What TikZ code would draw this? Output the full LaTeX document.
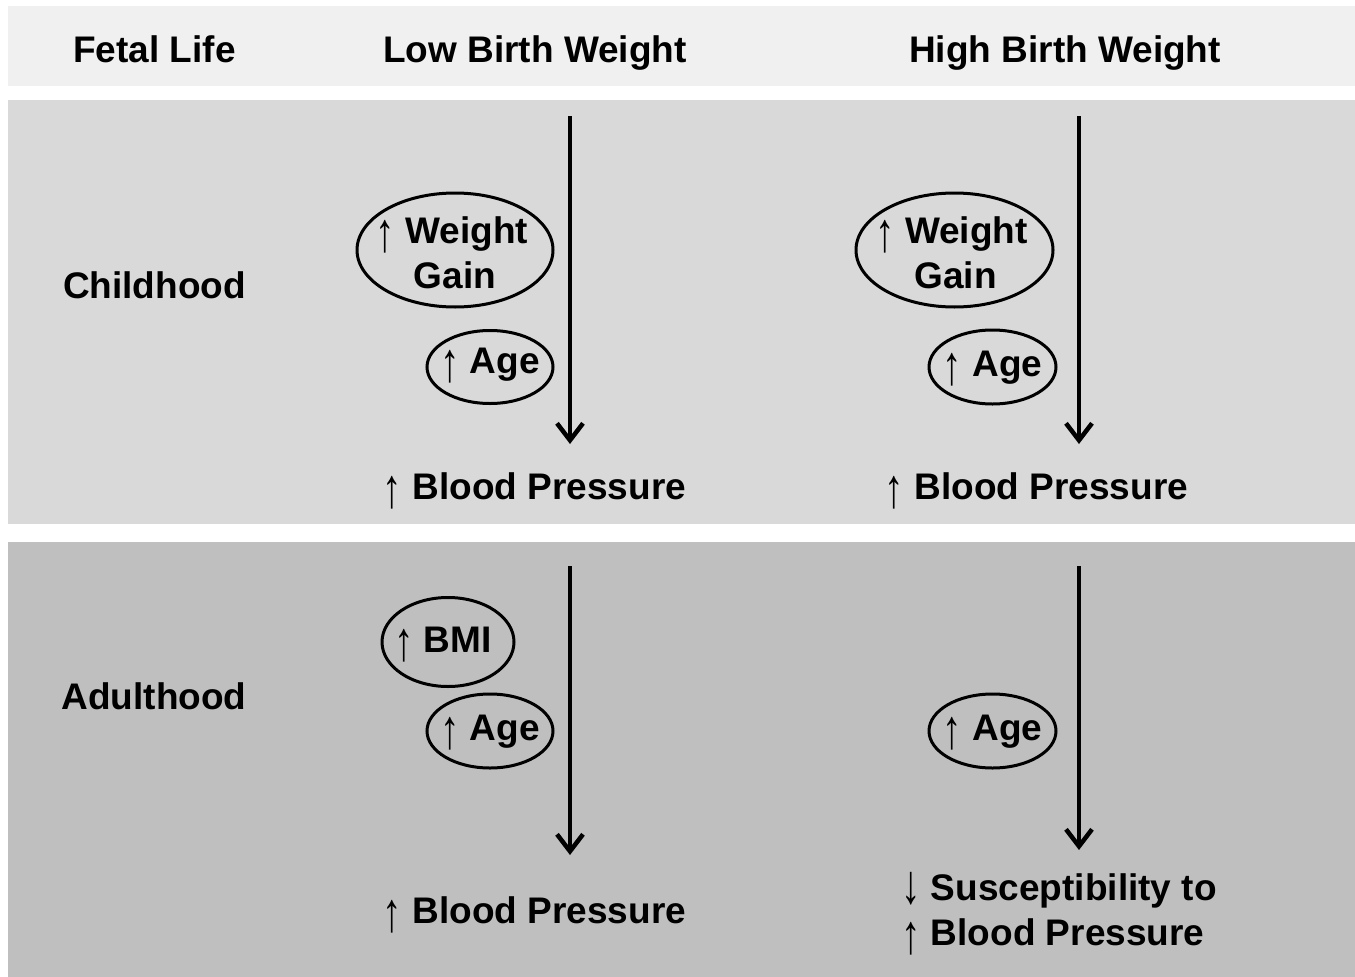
\documentclass[tikz,border=0pt]{standalone}
\usepackage{fontspec}
\usepackage{graphicx}
\setmainfont{Liberation Sans}
\usetikzlibrary{arrows.meta,shapes.geometric}
\definecolor{hdrband}{HTML}{F0F0F0}
\definecolor{childband}{HTML}{D9D9D9}
\definecolor{adultband}{HTML}{BFBFBF}
\newcommand{\uparr}{\raisebox{-8pt}{\scalebox{1.05}[1.5]{\mdseries\char"2191}}}
\newcommand{\dnarr}{\raisebox{-3pt}{\scalebox{1.05}[1.5]{\mdseries\char"2193}}}
\begin{document}
\begin{tikzpicture}[x=1pt,y=-1pt,
  every node/.style={font=\fontsize{37}{45}\selectfont\bfseries,inner sep=0pt},
  oval/.style={ellipse,draw,line width=3pt,inner sep=0pt},
  flow/.style={line width=4.5pt,-{Straight Barb[length=17pt,width=26pt]}}]
\useasboundingbox (0,0) rectangle (1355,977);
\fill[white] (0,0) rectangle (1355,977);
\fill[hdrband] (8,6) rectangle (1355,86);
\fill[childband] (8,100) rectangle (1355,524);
\fill[adultband] (8,542) rectangle (1355,977);

% header
\node[anchor=base] (fetal) at (154.5,62) {Fetal Life};
\node[anchor=base] (lbw) at (535,62) {Low Birth Weight};
\node[anchor=base] (hbw) at (1065,62) {High Birth Weight};

% row labels
\node[anchor=base] (child) at (154.5,298) {Childhood};
\node[anchor=base] (adult) at (154,709) {Adulthood};

% childhood, low birth weight
\node[oval,minimum width=196pt,minimum height=114pt] (wgL) at (455,250) {};
\node[anchor=base] (wgLt) at (452,243) {\uparr{} Weight};
\node[anchor=base] (wgLt2) at (455,288) {Gain};
\node[oval,minimum width=126pt,minimum height=73pt] (agL) at (490,367) {};
\node[anchor=base] (agLt) at (490,373) {\uparr{} Age};
\coordinate (aLs) at (570,116);
\coordinate (aLe) at (570,444);
\draw[flow] (aLs) -- (aLe);
\node[anchor=base] (bpL) at (534.5,499) {\uparr{} Blood Pressure};

% childhood, high birth weight
\node[oval,minimum width=197pt,minimum height=114pt] (wgH) at (954.5,250) {};
\node[anchor=base] (wgHt) at (951.5,243) {\uparr{} Weight};
\node[anchor=base] (wgHt2) at (955.5,288) {Gain};
\node[oval,minimum width=127pt,minimum height=74pt] (agH) at (992.5,367) {};
\node[anchor=base] (agHt) at (992.5,376) {\uparr{} Age};
\coordinate (aHs) at (1079,116);
\coordinate (aHe) at (1079,444);
\draw[flow] (aHs) -- (aHe);
\node[anchor=base] (bpH) at (1036.5,499) {\uparr{} Blood Pressure};

% adulthood, low birth weight
\node[oval,minimum width=132pt,minimum height=89pt] (bmi) at (448,642) {};
\node[anchor=base] (bmit) at (443,652) {\uparr{} BMI};
\node[oval,minimum width=126pt,minimum height=74pt] (agLA) at (490,731) {};
\node[anchor=base] (agLAt) at (490,740) {\uparr{} Age};
\coordinate (bLs) at (570,566);
\coordinate (bLe) at (570,855);
\draw[flow] (bLs) -- (bLe);
\node[anchor=base] (bpLA) at (534.5,923) {\uparr{} Blood Pressure};

% adulthood, high birth weight
\node[oval,minimum width=127pt,minimum height=74pt] (agHA) at (992.5,731) {};
\node[anchor=base] (agHAt) at (992.5,740) {\uparr{} Age};
\coordinate (bHs) at (1079,566);
\coordinate (bHe) at (1079,850);
\draw[flow] (bHs) -- (bHe);
\node[anchor=base west] (sus1) at (901,900) {\dnarr{} Susceptibility to};
\node[anchor=base west] (sus2) at (901,945) {\uparr{} Blood Pressure};
\end{tikzpicture}
\end{document}
